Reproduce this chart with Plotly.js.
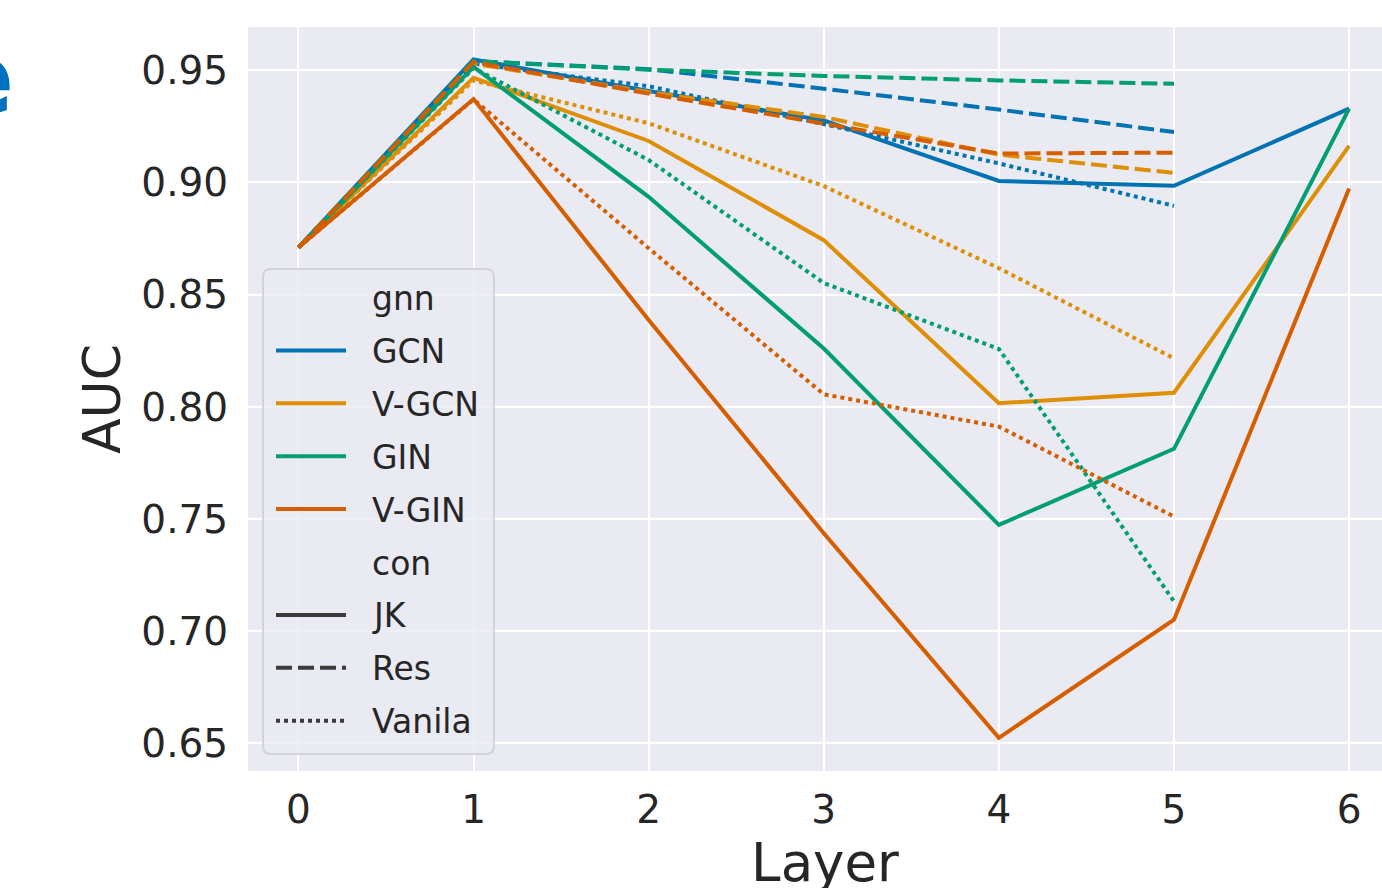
<!DOCTYPE html>
<html>
<head>
<meta charset="utf-8">
<script src="https://cdn.plot.ly/plotly-3.0.1.min.js"></script>
<style>
html,body{margin:0;padding:0;background:#fff;overflow:hidden;}
#chart{width:1402px;height:910px;}
</style>
</head>
<body>
<div id="chart"></div>
<script>
// ---- data ----
const layers = [0, 1, 2, 3, 4, 5, 6];
const gnnNames = ['GCN', 'V-GCN', 'GIN', 'V-GIN'];
const conNames = ['JK', 'Res', 'Vanila'];

const GCN_JK      = [0.871, 0.9548, 0.9408, 0.9277, 0.9007, 0.8985, 0.9329];
const GCN_Res     = [0.871, 0.9541, 0.9505, 0.9418, 0.9325, 0.9225];
const GCN_Vanila  = [0.871, 0.9530, 0.9429, 0.9260, 0.9085, 0.8896];
const VGCN_JK     = [0.871, 0.9467, 0.9185, 0.8743, 0.8016, 0.8063, 0.9163];
const VGCN_Res    = [0.871, 0.9530, 0.9403, 0.9292, 0.9124, 0.9043];
const VGCN_Vanila = [0.871, 0.9455, 0.9264, 0.8984, 0.8618, 0.8216];
const GIN_JK      = [0.871, 0.9515, 0.8936, 0.8260, 0.7474, 0.7813, 0.9329];
const GIN_Res     = [0.871, 0.9541, 0.9503, 0.9475, 0.9455, 0.9440];
const GIN_Vanila  = [0.871, 0.9510, 0.9100, 0.8552, 0.8258, 0.7133];
const VGIN_JK     = [0.871, 0.9372, 0.8387, 0.7437, 0.6525, 0.7051, 0.8973];
const VGIN_Res    = [0.871, 0.9537, 0.9396, 0.9263, 0.9129, 0.9133];
const VGIN_Vanila = [0.871, 0.9370, 0.8707, 0.8056, 0.7912, 0.7511];

const yTickVals = [0.65, 0.70, 0.75, 0.80, 0.85, 0.90, 0.95];
const yTickText = ['0.65', '0.70', '0.75', '0.80', '0.85', '0.90', '0.95'];

// ---- styles ----
const series = {
  'GCN':   [GCN_JK, GCN_Res, GCN_Vanila],
  'V-GCN': [VGCN_JK, VGCN_Res, VGCN_Vanila],
  'GIN':   [GIN_JK, GIN_Res, GIN_Vanila],
  'V-GIN': [VGIN_JK, VGIN_Res, VGIN_Vanila]
};
const colors = {'GCN': '#0173b2', 'V-GCN': '#de8f05', 'GIN': '#029e73', 'V-GIN': '#d55e00'};
const dashes = ['solid', '16px,6px', '4px,4px'];
const LW = 4;

const traces = [];
gnnNames.forEach(g => {
  conNames.forEach((c, ci) => {
    const ys = series[g][ci];
    traces.push({
      type: 'scatter', mode: 'lines',
      x: layers.slice(0, ys.length), y: ys,
      name: g + ' ' + c,
      line: {color: colors[g], width: LW, dash: dashes[ci]},
      showlegend: false, hoverinfo: 'skip'
    });
  });
});

// figure slightly larger than the window; right and bottom are cropped like the reference
const W = 1402, H = 910;
const L = 248, R = 1402, T = 27, B = 771;
const PX = px => (px - L) / (R - L);
const PY = py => (B - py) / (B - T);

const textColor = '#262626';
const shapes = [];
const annotations = [];

// legend frame (rounded)
const lx0 = 263, lx1 = 494, ly0 = 269, ly1 = 754, rr = 8;
const path = [
  'M', PX(lx0 + rr), PY(ly0),
  'L', PX(lx1 - rr), PY(ly0),
  'Q', PX(lx1), PY(ly0), PX(lx1), PY(ly0 + rr),
  'L', PX(lx1), PY(ly1 - rr),
  'Q', PX(lx1), PY(ly1), PX(lx1 - rr), PY(ly1),
  'L', PX(lx0 + rr), PY(ly1),
  'Q', PX(lx0), PY(ly1), PX(lx0), PY(ly1 - rr),
  'L', PX(lx0), PY(ly0 + rr),
  'Q', PX(lx0), PY(ly0), PX(lx0 + rr), PY(ly0),
  'Z'
].join(' ');
shapes.push({
  type: 'path', xref: 'paper', yref: 'paper', path: path, layer: 'above',
  fillcolor: 'rgba(234,234,242,0.8)', line: {color: 'rgba(204,204,210,0.8)', width: 2}
});

const legendItems = [
  {label: 'gnn', header: true},
  ...gnnNames.map(g => ({label: g, color: colors[g], dash: 'solid'})),
  {label: 'con', header: true},
  ...conNames.map((c, ci) => ({label: c, color: '#3b3b3b', dash: dashes[ci]}))
];
const slot0 = 297.5, slotStep = 52.9;
legendItems.forEach((it, i) => {
  const cy = slot0 + i * slotStep;
  if (!it.header) {
    shapes.push({
      type: 'line', xref: 'paper', yref: 'paper', layer: 'above',
      x0: PX(276), x1: PX(346), y0: PY(cy), y1: PY(cy),
      line: {color: it.color, width: LW, dash: it.dash}
    });
  }
  annotations.push({
    xref: 'paper', yref: 'paper', x: PX(370), y: PY(cy + 1),
    xanchor: 'left', yanchor: 'middle', showarrow: false,
    text: it.label, font: {family: 'DejaVu Sans', size: 33, color: textColor}
  });
});

// clipped panel letter at top-left
annotations.push({
  xref: 'paper', yref: 'paper', x: PX(17), y: PY(78),
  xanchor: 'right', yanchor: 'middle', showarrow: false,
  text: '<b>e</b>', font: {family: 'DejaVu Sans', size: 104, color: '#0070c0'}
});

const layout = {
  width: W, height: H,
  margin: {l: L, r: W - R, t: T, b: H - B, pad: 0},
  paper_bgcolor: '#ffffff', plot_bgcolor: '#eaeaf2',
  font: {family: 'DejaVu Sans', color: textColor},
  xaxis: {
    range: [-0.288, 6.302], tickvals: layers, ticktext: layers.map(String),
    showgrid: true, gridcolor: '#ffffff', gridwidth: 2, zeroline: false, showline: false,
    ticks: 'outside', ticklen: 4, tickcolor: 'rgba(0,0,0,0)',
    tickfont: {family: 'DejaVu Sans', size: 39, color: textColor},
    title: {text: 'Layer', font: {family: 'DejaVu Sans', size: 53, color: textColor}, standoff: 10}
  },
  yaxis: {
    range: [0.6377, 0.9693], tickvals: yTickVals, ticktext: yTickText,
    showgrid: true, gridcolor: '#ffffff', gridwidth: 2, zeroline: false, showline: false,
    ticks: 'outside', ticklen: 11, tickcolor: 'rgba(0,0,0,0)',
    tickfont: {family: 'DejaVu Sans', size: 39, color: textColor},
    title: {text: 'AUC', font: {family: 'DejaVu Sans', size: 52, color: textColor}, standoff: 4}
  },
  shapes: shapes,
  annotations: annotations,
  showlegend: false
};

Plotly.newPlot('chart', traces, layout, {displayModeBar: false, staticPlot: true});
</script>
</body>
</html>
